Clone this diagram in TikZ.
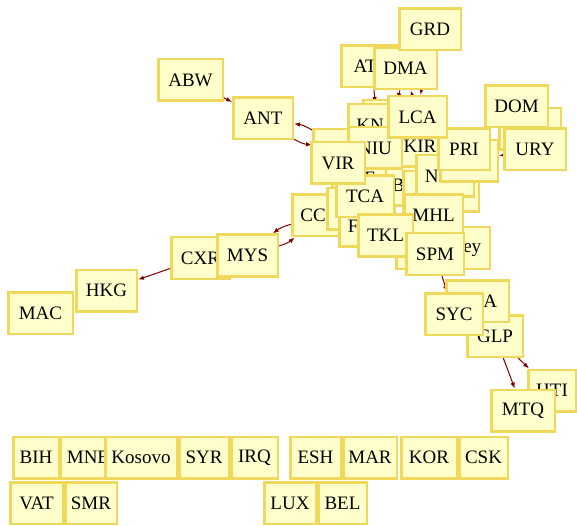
\documentclass[tikz,border=0pt]{standalone}
\usepackage{fontspec}
\setmainfont{Liberation Serif}
\usetikzlibrary{arrows.meta,backgrounds}
\definecolor{boxfill}{RGB}{255,255,204}
\definecolor{boxline}{RGB}{240,216,92}
\definecolor{linkred}{RGB}{128,0,0}
\tikzset{
	country/.style={draw=boxline, fill=boxfill, line width=2.5pt, inner sep=2pt,
		minimum height=41.5pt, font=\fontsize{19}{19}\selectfont},
	link/.style={draw=linkred, line width=1pt, -{Latex[length=6pt,width=4.5pt]}}
}
\begin{document}
\begin{tikzpicture}[x=1pt,y=-1pt]
	\useasboundingbox (0,0) rectangle (577,526);
	\foreach \n/\x/\y/\w in {ABW/190.5/80/67, ANT/263/118.5/62, ATG/372/66.5/64,
		DMA/405.5/68.5/65, GRD/430/29.5/64, VGB/392/121/60, KNA/377/125/60,
		MSR/342/150/60, BMU/413.5/185/62, KIR/420/146/56, SLE/359/178/56,
		NIU/375/148/56, WSM/450/191/60, PYF/432/192/60, NRU/445/176/60,
		VCT/469/161/60, PRI/464/149.5/54, LCA/417.5/117/61,
		BRB/530/129/64, DOM/516.5/106.5/65, URY/535/149.5/64,
		CCK/320/215.5/58, PLW/355.5/209/59,
		FSM/367/226/58, TCA/365/196.5/60, VIR/338/163/56, TUV/425/248/60,
		Jersey/457.5/248/67, MHL/433.5/215.5/61, TKL/385.5/235.5/57,
		SPM/435/254/60, GLP/495/336/58, BRA/477.5/301/65, SYC/454/314/60,
		HTI/552/390.5/50, MTQ/523/410.5/66, CXR/200.5/258/61, MYS/247.5/255.5/63,
		HKG/106.5/290.5/63, MAC/40.5/313/67}
	\node[country, minimum width=\w pt-2.5pt] (\n) at (\x,\y) {\n};
	
	\foreach \n/\x/\y/\w in {BIH/36/457.5/48, MNE/88/457.5/58, Kosovo/141/457.5/74,
		SYR/204/457.5/52, IRQ/254.5/457.5/49, ESH/315.5/457.5/53, MAR/370/457.5/56,
		KOR/429/457.5/58, CSK/483.5/457.5/51, VAT/36.5/503/55, SMR/91/503/54,
		LUX/290/503/54, BEL/342.5/503/51}
	\node[country, minimum width=\w pt-2.5pt] (\n) at (\x,\y) {\n};
	
	\begin{scope}[on background layer]
		\draw[link] (ABW) -- (ANT);
		\draw[link] (ANT) to[bend right=12] (MSR);
		\draw[link] (MSR) to[bend right=12] (ANT);
		\draw[link] (ATG) -- (KNA);
		\draw[link] (DMA) -- (VGB);
		\draw[link] (LCA) -- (DMA);
		\draw[link] (GRD) -- (LCA);
		\draw[link] (PRI) -- (DOM);
		\draw[link] (URY) -- (VCT);
		\draw[link] (MYS) to[bend right=12] (CCK);
		\draw[link] (CCK) to[bend right=12] (MYS);
		\draw[link] (CXR) -- (HKG);
		\draw[link] (SPM) -- (SYC);
		\draw[link] (GLP) -- (MTQ);
		\draw[link] (GLP) -- (HTI);
	\end{scope}
\end{tikzpicture}
\end{document}
